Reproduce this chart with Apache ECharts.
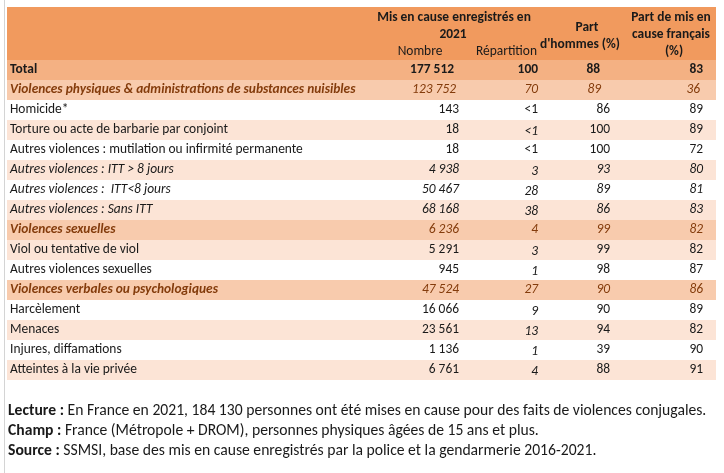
<!DOCTYPE html>
<html><head><meta charset="utf-8">
<script src="https://cdn.jsdelivr.net/npm/echarts@6/dist/echarts.min.js"></script>
<style>html,body{margin:0;padding:0;background:#fff}#c{width:724px;height:473px}</style>
</head><body><div id="c"></div>
<script>
// ---------- DATA ----------
const rowLabels = [
  'Total',
  'Violences physiques & administrations de substances nuisibles',
  'Homicide*',
  'Torture ou acte de barbarie par conjoint',
  'Autres violences : mutilation ou infirmité permanente',
  'Autres violences : ITT > 8 jours',
  'Autres violences :  ITT<8 jours',
  'Autres violences : Sans ITT',
  'Violences sexuelles',
  'Viol ou tentative de viol',
  'Autres violences sexuelles',
  'Violences verbales ou psychologiques',
  'Harcèlement',
  'Menaces',
  'Injures, diffamations',
  'Atteintes à la vie privée'
];
const rowKinds = ['total','cat','item','item','item','itemI','itemI','itemI','cat','item','item','cat','item','item','item','item'];
const nombre = [177512, 123752, 143, 18, 18, 4938, 50467, 68168, 6236, 5291, 945, 47524, 16066, 23561, 1136, 6761];
const repartition = ['100','70','<1','<1','<1','3','28','38','4','3','1','27','9','13','1','4'];
const partHommes = [88, 89, 86, 100, 100, 93, 89, 86, 99, 99, 98, 90, 90, 94, 39, 88];
const partFrancais = [83, 36, 89, 89, 72, 80, 81, 83, 82, 82, 87, 86, 89, 82, 90, 91];
const headerNombreTitle = ['Mis en cause enregistrés en', '2021'];
const headerSub = ['Nombre', 'Répartition'];
const headerHommes = ['Part', "d'hommes (%)"];
const headerFrancais = ['Part de mis en', 'cause français', '(%)'];
const footer = [
  ['Lecture :', ' En France en 2021, 184 130 personnes ont été mises en cause pour des faits de violences conjugales.'],
  ['Champ :', ' France (Métropole + DROM), personnes physiques âgées de 15 ans et plus.'],
  ['Source :', ' SSMSI, base des mis en cause enregistrés par la police et la gendarmerie 2016-2021.']
];

// ---------- FONT ----------
function hasFont(name){
  const c=document.createElement('canvas').getContext('2d');
  const s='mmmmmlliiWW@#abc';
  c.font='40px monospace'; const w1=c.measureText(s).width;
  c.font='40px "'+name+'", monospace'; const w2=c.measureText(s).width;
  return w1!==w2;
}
const candidates=['Carlito','Calibri','Liberation Sans Narrow','Lato','Liberation Sans'];
let FF='sans-serif';
for(const f of candidates){ if(hasFont(f)){FF=f;break;} }
const FFq = '"'+FF+'"';
function measure(txt,size,weight){
  const c=document.createElement('canvas').getContext('2d');
  c.font=(weight||'normal')+' '+size+'px '+FFq; return c.measureText(txt).width;
}
let FS = 100*293/measure(rowLabels[4],100);
FS = Math.max(11, Math.min(15.5, FS));
// footer is set in a slightly larger size in the reference
const footW = measure(footer[0][1],100) + measure(footer[0][0],100,'bold');
let FFS = 100*699/footW;
FFS = Math.max(11, Math.min(17, FFS));

// ---------- LAYOUT ----------
const G = {left:7, right:8, top:60, bottom:93};
const COL = {label:3, nombre:452, rep:531, hommes:603, francais:696};
const SHIFT = {0:{nombre:-5,hommes:-10,francais:0}, 1:{nombre:-3,hommes:-9,francais:-3}};
const BG = {total:'#F4B183', cat:'#F8CBAD', light:'#FCE4D6', white:'#FFFFFF'};
const BROWN = '#843C0C', INK = '#1a1a1a';

function fmt(n){ return String(n).replace(/\B(?=(\d{3})+(?!\d))/g,' '); }

const rowBgRef = rowKinds.map((k,i)=>{
  if(k==='total') return BG.total;
  if(k==='cat') return BG.cat;
  return (i%2===1)?BG.light:BG.white;
});

const chart = echarts.init(document.getElementById('c'), null, {renderer:'canvas'});

function txt(x,y,text,o){
  return {type:'text', style:Object.assign({text:text, x:x, y:y, fontFamily:FFq, fontSize:FS, fill:INK, verticalAlign:'middle', align:'left'}, o||{})};
}

const option = {
  animation:false,
  grid:{left:G.left, right:G.right, top:G.top, bottom:G.bottom},
  xAxis:{type:'value', min:0, max:724-G.left-G.right, show:false},
  yAxis:{type:'category', data:rowLabels, inverse:true, show:false},
  series:[{
    type:'custom',
    data: rowLabels.map((l,i)=>[0,i]),
    encode:{x:0,y:1},
    renderItem:function(params, api){
      const i = params.dataIndex;
      const kind = rowKinds[i];
      const cs = params.coordSys;
      const c = api.coord([0,i]);
      const h = api.size([0,1])[1];
      const cy = c[1];
      const sh = SHIFT[i]||{};
      const X = k => api.coord([COL[k]+(sh[k]||0), i])[0];
      const children = [{type:'rect', shape:{x:cs.x, y:cy-h/2, width:cs.width, height:h}, style:{fill:rowBgRef[i]}}];
      let lab={}, num={}, rep={};
      if(kind==='total'){ lab={fontWeight:'bold'}; num={fontWeight:'bold'}; rep={fontWeight:'bold'}; }
      else if(kind==='cat'){ lab={fontWeight:'bold',fontStyle:'italic',fill:BROWN}; num={fontStyle:'italic',fill:BROWN}; rep={fontStyle:'italic',fill:BROWN}; }
      else if(kind==='itemI'){ lab={fontStyle:'italic'}; num={fontStyle:'italic'}; rep={fontStyle:'italic'}; }
      else { rep = (i===2||i===4)?{}:{fontStyle:'italic'}; }
      const repDy = (kind==='item' && !(i===2||i===4)) || kind==='itemI' ? 1.5 : 0;
      children.push(txt(X('label'), cy, rowLabels[i], lab));
      children.push(txt(X('nombre'), cy, fmt(nombre[i]), Object.assign({align:'right'}, num)));
      children.push(txt(X('rep'), cy+repDy, repartition[i], Object.assign({align:'right'}, rep)));
      children.push(txt(X('hommes'), cy, String(partHommes[i]), Object.assign({align:'right'}, num)));
      children.push(txt(X('francais'), cy, String(partFrancais[i]), Object.assign({align:'right'}, num)));
      return {type:'group', children:children};
    }
  }],
  graphic:[
    {type:'line', shape:{x1:4.5,y1:0,x2:4.5,y2:473}, style:{stroke:'#d4d4d4', lineWidth:1}, silent:true},
    {type:'rect', shape:{x:G.left, y:7, width:724-G.left-G.right, height:G.top-7}, style:{fill:'#F19A5E'}},
    {type:'text', x:454, y:18, style:{text:headerNombreTitle[0], fontFamily:FFq, fontSize:FS, fontWeight:'bold', fill:INK, align:'center', verticalAlign:'middle'}},
    {type:'text', x:453, y:35, style:{text:headerNombreTitle[1], fontFamily:FFq, fontSize:FS, fontWeight:'bold', fill:INK, align:'center', verticalAlign:'middle'}},
    {type:'text', x:420, y:52, style:{text:headerSub[0], fontFamily:FFq, fontSize:FS, fill:INK, align:'center', verticalAlign:'middle'}},
    {type:'text', x:537, y:52, style:{text:headerSub[1], fontFamily:FFq, fontSize:FS, fill:INK, align:'right', verticalAlign:'middle'}},
    {type:'text', x:587, y:28, style:{text:headerHommes[0], fontFamily:FFq, fontSize:FS, fontWeight:'bold', fill:INK, align:'center', verticalAlign:'middle'}},
    {type:'text', x:580, y:45, style:{text:headerHommes[1], fontFamily:FFq, fontSize:FS, fontWeight:'bold', fill:INK, align:'center', verticalAlign:'middle'}},
    {type:'text', x:671, y:18, style:{text:headerFrancais[0], fontFamily:FFq, fontSize:FS, fontWeight:'bold', fill:INK, align:'center', verticalAlign:'middle'}},
    {type:'text', x:671, y:35, style:{text:headerFrancais[1], fontFamily:FFq, fontSize:FS, fontWeight:'bold', fill:INK, align:'center', verticalAlign:'middle'}},
    {type:'text', x:674, y:52, style:{text:headerFrancais[2], fontFamily:FFq, fontSize:FS, fontWeight:'bold', fill:INK, align:'center', verticalAlign:'middle'}}
  ].concat(footer.map((f,k)=>({
    type:'text', x:8, y:411+20*k,
    style:{text:'{b|'+f[0]+'}'+f[1], fontFamily:FFq, fontSize:FFS, fill:INK, verticalAlign:'middle',
      rich:{b:{fontWeight:'bold', fontFamily:FFq, fontSize:FFS, fill:INK}}}
  })))
};
chart.setOption(option);
</script>
</body></html>
